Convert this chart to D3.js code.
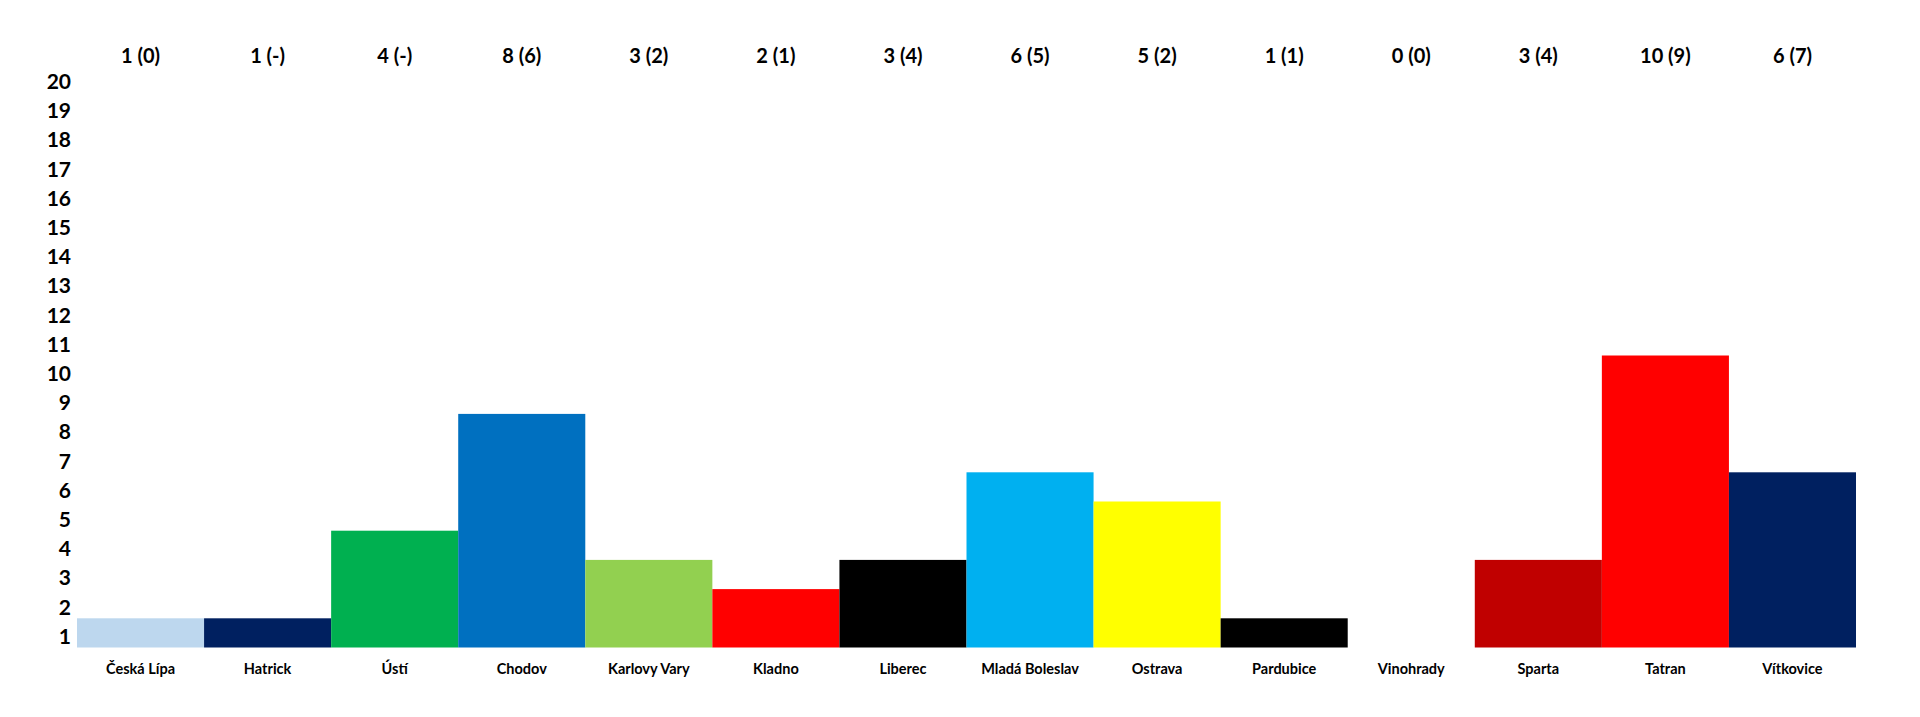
<!DOCTYPE html>
<html>
<head>
<meta charset="utf-8">
<script src="https://cdn.jsdelivr.net/npm/d3@7"></script>
<style>
	body { margin: 0; background: #fff; }
	text { font-family: Lato, "Open Sans", sans-serif; font-weight: 700; fill: #000; }
</style>
</head>
<body>
<svg width="1920" height="717"></svg>
<script>
const teams = ["Česká Lípa", "Hatrick", "Ústí", "Chodov", "Karlovy Vary", "Kladno", "Liberec",
	"Mladá Boleslav", "Ostrava", "Pardubice", "Vinohrady", "Sparta", "Tatran", "Vítkovice"];
const values = [1, 1, 4, 8, 3, 2, 3, 6, 5, 1, 0, 3, 10, 6];
const previous = ["0", "-", "-", "6", "2", "1", "4", "5", "2", "1", "0", "4", "9", "7"];
const colours = ["#BDD7EE", "#002060", "#00B050", "#0070C0", "#92D050", "#FF0000", "#000000",
	"#00B0F0", "#FFFF00", "#000000", "#FFFFFF", "#C00000", "#FF0000", "#002060"];
const yTicks = d3.range(1, 21);

const svg = d3.select("svg");
const left = 77, right = 1856, bottom = 647.5, unit = 29.2;

const x = d3.scaleBand()
	.domain(teams)
	.range([left, right])
	.padding(0);

const y = d3.scaleLinear()
	.domain([0, 20])
	.range([bottom, bottom - 20 * unit]);

// bars
svg.append("g").attr("class", "bars")
	.selectAll("rect")
	.data(teams)
	.enter().append("rect")
		.attr("x", function(d) { return x(d); })
		.attr("width", x.bandwidth())
		.attr("y", function(d, i) { return y(values[i]); })
		.attr("height", function(d, i) { return y(0) - y(values[i]); })
		.attr("fill", function(d, i) { return colours[i]; });

// y axis: labels sit a bit below their grid value, as in the original
const yAxis = d3.axisLeft(y)
	.tickValues(yTicks)
	.tickSize(0)
	.tickPadding(6)
	.tickFormat(d3.format("d"));
const yg = svg.append("g")
	.attr("transform", "translate(" + left + "," + (y(0) - y(0.6)) + ")")
	.call(yAxis);
yg.select(".domain").remove();
yg.selectAll("text")
	.attr("font-size", 21)
	.attr("dy", "0.36em");

// x axis: team names
const xAxis = d3.axisBottom(x).tickSize(0).tickPadding(16);
const xg = svg.append("g")
	.attr("transform", "translate(0," + bottom + ")")
	.call(xAxis);
xg.select(".domain").remove();
xg.selectAll("text").attr("font-size", 14.5);

// top labels: points (previous)
svg.append("g").attr("class", "top")
	.selectAll("text")
	.data(teams)
	.enter().append("text")
		.attr("x", function(d) { return x(d) + x.bandwidth() / 2; })
		.attr("y", 56)
		.attr("dy", "0.36em")
		.attr("text-anchor", "middle")
		.attr("font-size", 20)
		.text(function(d, i) { return values[i] + " (" + previous[i] + ")"; });
</script>
</body>
</html>
